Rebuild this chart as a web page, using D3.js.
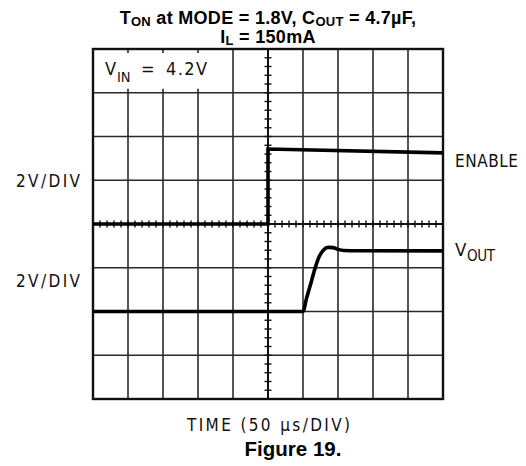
<!DOCTYPE html>
<html>
<head>
<meta charset="utf-8">
<script src="https://cdn.jsdelivr.net/npm/d3@7"></script>
<style>
  body { margin: 0; background: #fff; }
  .scope { font-family: "DejaVu Sans Condensed", "DejaVu Sans", sans-serif; fill: #111; }
  .bold { font-family: "Liberation Sans", Arial, sans-serif; font-weight: bold; fill: #000; }
</style>
</head>
<body>
<svg id="chart" width="526" height="466"></svg>
<script>
// time axis: 50 us per division, 10 divisions
const timeDivs = d3.range(0, 501, 50);
// vertical axis in divisions, 0 = centre line
const voltDivs = d3.range(-4, 5, 1);
const voltsPerDiv = 2;

// ENABLE trace, ground reference on the centre line
const enableTime = [0, 250, 250, 500];
const enableVolts = [0, 0, 3.43, 3.25];
const enableOffset = 0;

// VOUT trace, ground reference two divisions below centre
const voutTime = [0, 300, 305, 310, 317, 323, 329, 336, 343, 350, 358, 380, 500];
const voutVolts = [0, 0, 0.6, 1.15, 1.95, 2.5, 2.8, 2.93, 2.92, 2.84, 2.79, 2.78, 2.77];
const voutOffset = -2;

const svg = d3.select('#chart');
const plotLeft = 93, plotTop = 49, size = 350;
const x = d3.scaleLinear().domain([0, 500]).range([plotLeft, plotLeft + size]);
const y = d3.scaleLinear().domain([-4, 4]).range([plotTop + size, plotTop]);

// grid
const grid = svg.append('g').attr('stroke', '#2a2a2a').attr('stroke-width', 1.6);
grid.selectAll('line.v')
  .data(timeDivs)
  .enter()
  .append('line')
  .attr('x1', d => x(d)).attr('x2', d => x(d))
  .attr('y1', y(-4)).attr('y2', y(4));
grid.selectAll('line.h')
  .data(voltDivs)
  .enter()
  .append('line')
  .attr('y1', d => y(d)).attr('y2', d => y(d))
  .attr('x1', x(0)).attr('x2', x(500));

// label box over upper left corner
svg.append('rect')
  .attr('x', x(0) + 1).attr('y', y(4) + 1)
  .attr('width', x(200) - x(0) - 2).attr('height', y(3) - y(4) - 2)
  .attr('fill', '#fff');
const stubs = svg.append('g').attr('stroke', '#2a2a2a').attr('stroke-width', 1.6);
[50, 100, 150].forEach(t => {
  stubs.append('line').attr('x1', x(t)).attr('x2', x(t)).attr('y1', y(4)).attr('y2', y(4) + 4);
  stubs.append('line').attr('x1', x(t)).attr('x2', x(t)).attr('y1', y(3)).attr('y2', y(3) - 4);
});

// minor ticks on centre lines
const minor = svg.append('g').attr('stroke', '#111').attr('stroke-width', 1.4);
minor.selectAll('line.mx')
  .data(d3.range(0, 501, 10))
  .enter()
  .append('line')
  .attr('x1', d => x(d)).attr('x2', d => x(d))
  .attr('y1', y(0) - 3.5).attr('y2', y(0) + 3.5);
minor.selectAll('line.my')
  .data(d3.range(-4, 4.01, 0.2))
  .enter()
  .append('line')
  .attr('y1', d => y(d)).attr('y2', d => y(d))
  .attr('x1', x(250) - 3.5).attr('x2', x(250) + 3.5);
svg.append('line')
  .attr('x1', x(0)).attr('x2', x(500)).attr('y1', y(0)).attr('y2', y(0))
  .attr('stroke', '#111').attr('stroke-width', 2);
svg.append('line')
  .attr('x1', x(250)).attr('x2', x(250)).attr('y1', y(-4)).attr('y2', y(4))
  .attr('stroke', '#111').attr('stroke-width', 2);

// frame
svg.append('rect')
  .attr('x', x(0)).attr('y', y(4))
  .attr('width', size).attr('height', size)
  .attr('fill', 'none').attr('stroke', '#111').attr('stroke-width', 2.4);

// traces
const trace = (times, volts, offset, curve) => d3.line()
  .x(i => x(times[i]))
  .y(i => y(volts[i] / voltsPerDiv + offset))
  .curve(curve)(d3.range(times.length));

svg.append('path')
  .attr('d', trace(enableTime, enableVolts, enableOffset, d3.curveLinear))
  .attr('fill', 'none').attr('stroke', '#000').attr('stroke-width', 3.6)
  .attr('stroke-linejoin', 'miter');
svg.append('path')
  .attr('d', trace(voutTime, voutVolts, voutOffset, d3.curveMonotoneX))
  .attr('fill', 'none').attr('stroke', '#000').attr('stroke-width', 3.6);

// title
const title = svg.append('text').attr('class', 'bold').attr('text-anchor', 'middle')
  .attr('x', 268).attr('y', 24).attr('font-size', 18).attr('letter-spacing', 0.3);
title.append('tspan').text('T');
title.append('tspan').attr('font-size', 13).attr('dy', 2).text('ON');
title.append('tspan').attr('dy', -2).text(' at MODE = 1.8V, C');
title.append('tspan').attr('font-size', 13).attr('dy', 2).text('OUT');
title.append('tspan').attr('dy', -2).text(' = 4.7µF,');
const title2 = svg.append('text').attr('class', 'bold').attr('text-anchor', 'middle')
  .attr('x', 268).attr('y', 42.5).attr('font-size', 18).attr('letter-spacing', 0.3);
title2.append('tspan').text('I');
title2.append('tspan').attr('font-size', 13).attr('dy', 2.5).text('L');
title2.append('tspan').attr('dy', -2.5).text(' = 150mA');

// scope labels
const label = (tx, ty, fs, str, len) => {
  const t = svg.append('text').attr('class', 'scope')
    .attr('x', tx).attr('y', ty).attr('font-size', fs).text(str);
  if (len) t.attr('textLength', len).attr('lengthAdjust', 'spacing');
  return t;
};

label(105, 75, 18, 'V');
label(117, 81.5, 14.5, 'IN');
label(141, 75, 18, '=', 11);
label(166, 75, 18, '4.2V', 41);

label(16, 186.7, 17, '2V/DIV', 64);
label(16, 287.3, 17, '2V/DIV', 64);
label(455, 167.3, 17, 'ENABLE', 63);
label(455, 256, 18.5, 'V');
label(467, 260.7, 15, 'OUT', 28);
label(187, 430.7, 17, 'TIME (50 µs/DIV)', 163);

svg.append('text').attr('class', 'bold').attr('text-anchor', 'middle')
  .attr('x', 293).attr('y', 456).attr('font-size', 20.5).text('Figure 19.');
</script>
</body>
</html>
